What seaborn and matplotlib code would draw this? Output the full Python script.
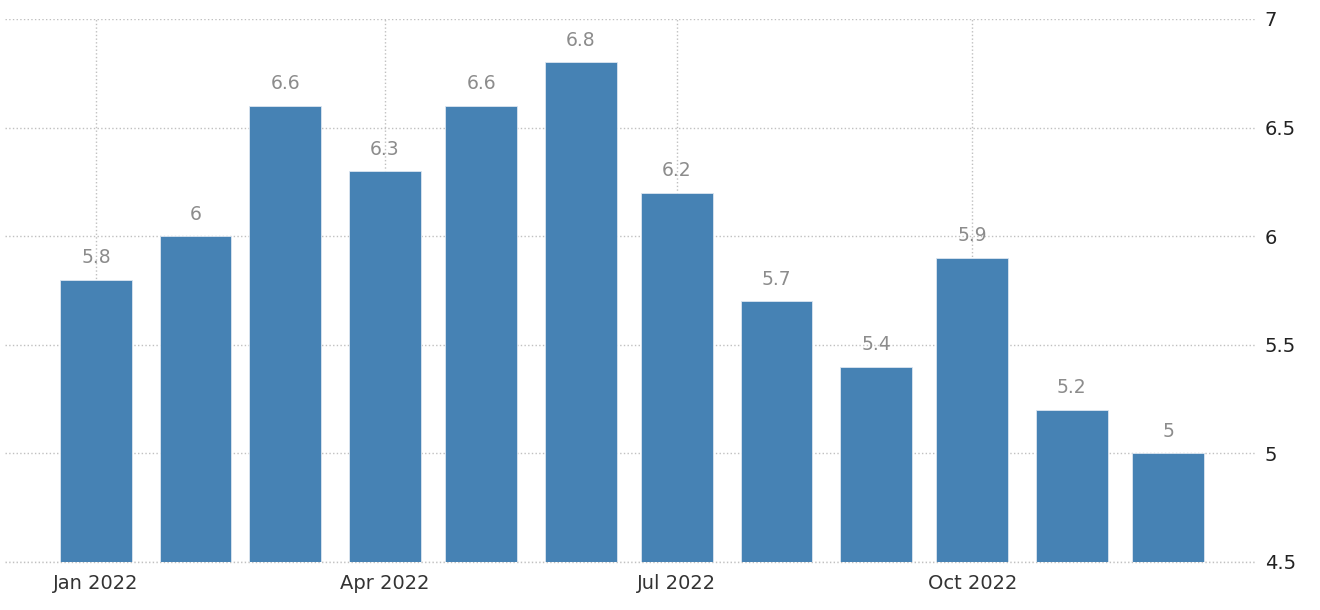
import pandas as pd
import numpy as np
import matplotlib.pyplot as plt
import matplotlib.dates as mdates
import seaborn as sns

months = pd.date_range("2022-01-01", periods=12, freq="MS")
values = [5.8, 6.0, 6.6, 6.3, 6.6, 6.8, 6.2, 5.7, 5.4, 5.9, 5.2, 5.0]
value_labels = ["5.8", "6", "6.6", "6.3", "6.6", "6.8", "6.2", "5.7", "5.4", "5.9", "5.2", "5"]
tick_dates = pd.to_datetime(["2022-01-01", "2022-04-01", "2022-07-01", "2022-10-01"])
tick_labels = ["Jan 2022", "Apr 2022", "Jul 2022", "Oct 2022"]
y_ticks = [4.5, 5, 5.5, 6, 6.5, 7]
y_labels = ["4.5", "5", "5.5", "6", "6.5", "7"]

df = pd.DataFrame({"x": mdates.date2num(months), "value": values})

sns.set_style("white")
plt.rcParams['font.family'] = ['DejaVu Sans']

fig = plt.figure(figsize=(13.2, 6.1), dpi=100)
ax = fig.add_axes([0.0038, 0.0787, 0.947, 0.8902])

sns.barplot(data=df, x="x", y="value", native_scale=True, color="#4682b4",
            saturation=1, width=0.8, edgecolor="#dce6f0", linewidth=0.6, ax=ax)

ax.bar_label(ax.containers[0], labels=value_labels, padding=9, color="#8c8c8c", fontsize=13.5)

jan = mdates.date2num(pd.Timestamp("2022-01-01"))
ax.set_xlim(jan - 28.35, jan + 361.1)
ax.set_ylim(4.5, 7)

ax.set_xticks(mdates.date2num(tick_dates))
ax.set_xticklabels(tick_labels, fontsize=14, color="#333333")
ax.set_yticks(y_ticks)
ax.set_yticklabels(y_labels, fontsize=14, color="#222222")
ax.yaxis.tick_right()
ax.tick_params(axis="y", length=0, pad=7)
ax.tick_params(axis="x", length=5, color="#bbbbbb", width=1, pad=4)

ax.grid(True, linestyle=":", color="#c0c0c0", linewidth=1)
ax.set_axisbelow(True)
# bottom gridline sits on the axis edge, draw it unclipped
ax.axhline(4.5, linestyle=":", color="#c0c0c0", linewidth=1, clip_on=False, zorder=0)
for s in ax.spines.values():
    s.set_visible(False)
ax.set_xlabel("")
ax.set_ylabel("")

fig.savefig("out.png", dpi=100)
